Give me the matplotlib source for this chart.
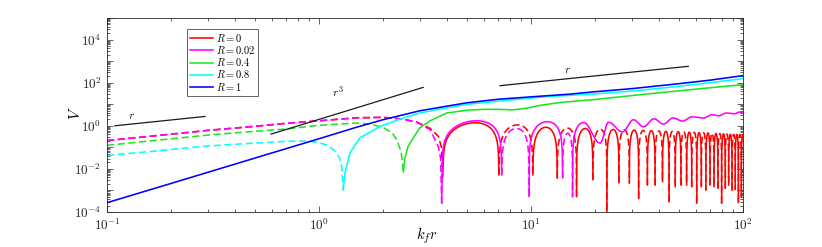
import numpy as np
import matplotlib
matplotlib.use("Agg")
import matplotlib.pyplot as plt
from matplotlib.ticker import FixedLocator, FixedFormatter, NullFormatter
from matplotlib.lines import Line2D

# ---------------- data ----------------
labels = ['$R=0$', '$R=0.02$', '$R=0.4$', '$R=0.8$', '$R=1$']
colors = ['#ff0000', '#ff00ff', '#1ee61e', '#00ffff', '#0000ff']

# R = 1 (blue, solid everywhere)
blue_x = [0.1, 0.2, 0.3, 0.5, 0.7, 1, 1.5, 2, 3, 4, 5, 7, 10, 15, 20, 30, 50, 70, 100]
blue_v = [2.7e-4, 2.1e-3, 7.0e-3, 0.032, 0.087, 0.25, 0.85, 1.9, 5.0, 8.1, 11.7, 17, 22, 29, 38, 53, 90, 131, 212]

# R = 0.8 (cyan): negative part (dashed) then positive part (solid)
cyan_neg_x = [0.1, 0.2, 0.3, 0.5, 0.7, 0.9, 1.0, 1.1, 1.2, 1.25, 1.28, 1.30]
cyan_neg_v = [0.0416, 0.079, 0.116, 0.157, 0.19, 0.195, 0.162, 0.124, 0.062, 0.0325, 0.0124, 1.05e-3]
cyan_pos_x = [1.30, 1.326, 1.40, 1.56, 1.94, 2.49, 2.99, 3.72, 5.15, 7.96, 12.3, 20, 32.7, 50, 70, 100]
cyan_pos_v = [1.05e-3, 6.5e-3, 0.0555, 0.277, 0.927, 2.28, 3.9, 5.98, 10.2, 15.7, 23.1, 30, 44, 68, 100, 153]

# R = 0.4 (green)
green_neg_x = [0.1, 0.2, 0.3, 0.5, 0.7, 1.0, 1.5, 1.74, 2.0, 2.21, 2.33, 2.44, 2.50]
green_neg_v = [0.124, 0.248, 0.373, 0.555, 0.71, 1.05, 1.34, 1.20, 0.85, 0.47, 0.22, 0.062, 7.2e-3]
green_pos_x = [2.50, 2.545, 2.63, 2.78, 2.99, 3.34, 4.0, 5.0, 6.0, 7.0, 8.2, 9.5, 11.0, 13.7, 20, 32.7, 50, 70, 100]
green_pos_v = [7.2e-3, 0.032, 0.11, 0.27, 0.8, 1.7, 3.9, 5.3, 5.8, 5.8, 5.5, 6.5, 8.8, 12, 16.5, 27.7, 42, 58, 81]

# R = 0.02 (magenta): first negative lobe, then lobes between zeros, then positive wavy tail
mag_first_x = [0.1, 0.2, 0.3, 0.5, 0.7, 1, 1.5, 2, 2.49, 2.91, 3.35, 3.66, 3.75, 3.79]
mag_first_v = [0.207, 0.41, 0.62, 0.95, 1.31, 1.71, 2.36, 2.48, 2.05, 1.42, 0.65, 0.105, 0.03, 2.6e-4]
mag_zeros = [3.79, 7.28, 9.79, 14.1, 15.7]
mag_peaks = [1.71, 0.75, 1.55, 0.45]          # |V| at top of each lobe
mag_depths = [2.6e-4, 5.3e-3, 5.3e-4, 3.9e-3, 5.2e-4]   # spike bottoms at the zeros
mag_tail_x = [17.7, 21.2, 23.2, 27.0, 30.4, 33.9, 38.0, 42.1, 46.8, 51.8, 57.5, 65.0, 71.5, 76.7, 83.6, 91.0, 96.2, 100]
mag_tail_v = [1.42, 0.157, 1.45, 0.52, 1.9, 0.9, 2.1, 1.2, 2.3, 1.65, 2.6, 2.28, 3.25, 2.92, 3.9, 3.61, 4.34, 4.1]

# R = 0 (red)
red_first_x = [0.1, 0.2, 0.3, 0.5, 0.7, 1, 1.5, 2, 2.49, 2.91, 3.35, 3.66, 3.78, 3.83]
red_first_v = [0.205, 0.405, 0.61, 0.94, 1.29, 1.69, 2.33, 2.45, 2.05, 1.45, 0.75, 0.32, 0.1, 4.4e-3]
red_zeros = [3.83, 7.06, 10.2, 13.3, 16.4, 19.6, 22.8, 26.0, 29.1, 32.2, 35.4, 38.5, 41.7, 44.8,
             47.9, 51.0, 54.2, 57.3, 60.5, 63.6, 66.8, 69.9, 73.0, 76.2, 79.3, 82.5, 85.6, 88.8,
             91.9, 95.1, 98.2, 101.3]
red_peaks = [1.38, 1.1, 0.85, 0.78, 0.75, 0.70, 0.67, 0.65, 0.63, 0.61, 0.59, 0.57, 0.55, 0.54,
             0.53, 0.52, 0.50, 0.49, 0.48, 0.47, 0.46, 0.45, 0.44, 0.43, 0.42, 0.41, 0.40, 0.40,
             0.39, 0.39, 0.38]
red_depths = [4.4e-3, 5.3e-3, 5.3e-3, 3.8e-3, 5.2e-4, 3.2e-3, 1.0e-4, 2.3e-3, 2.2e-3, 4.3e-4,
              1.8e-3, 1.8e-3, 2.6e-3, 3.0e-4, 1.5e-3, 1.8e-3, 1.8e-3, 1.5e-3, 2.6e-4, 1.5e-3,
              1.05e-3, 1.8e-3, 1.5e-3, 1.27e-3, 2.6e-4, 1.27e-3, 1.8e-3, 1.05e-3, 1.1e-3,
              2.8e-4, 5e-4, 1e-3]

# reference slopes (black guide lines) and their labels
guide_r1_x, guide_r1_v = [0.109, 0.29], [1.0, 2.71]
guide_r3_x, guide_r3_v = [0.594, 3.10], [0.411, 60.4]
guide_r2_x, guide_r2_v = [7.14, 55.2], [72.5, 573]
guide_labels = ['$r$', '$r^3$', '$r$']
guide_label_x = [0.131, 1.23, 14.8]
guide_label_v = [2.9, 36, 420]

xticks = [0.1, 1, 10, 100]
xticklabels = ['$10^{-1}$', '$10^{0}$', '$10^{1}$', '$10^{2}$']
yticks = [1e-4, 1e-2, 1e0, 1e2, 1e4]
yticklabels = ['$10^{-4}$', '$10^{-2}$', '$10^{0}$', '$10^{2}$', '$10^{4}$']

# ---------------- drawing helpers ----------------
def lobe(x0, x1, peak, d0, d1, n=80):
    """One arch of |V| between two sign changes; ends at the read spike depths."""
    t = np.linspace(0, 1, n)[1:-1]
    xs = x0 + (x1 - x0) * t
    vs = peak * np.sin(np.pi * t)
    return np.r_[x0, xs, x1], np.r_[d0, vs, d1]

def rise(x0, x1, peak, d0, n=40):
    t = np.linspace(0, 1, n)[1:]
    xs = x0 + (x1 - x0) * t
    vs = peak * np.sin(0.5 * np.pi * t)
    return np.r_[x0, xs], np.r_[d0, vs]

def smooth_extrema(xe, ve, n=25):
    lx, lv = np.log10(xe), np.log10(ve)
    X, V = [], []
    for i in range(len(xe) - 1):
        t = np.linspace(0, 1, n, endpoint=False)
        s = (1 - np.cos(np.pi * t)) / 2
        X.append(10 ** (lx[i] + (lx[i + 1] - lx[i]) * t))
        V.append(10 ** (lv[i] + (lv[i + 1] - lv[i]) * s))
    X.append([xe[-1]]); V.append([ve[-1]])
    return np.concatenate(X), np.concatenate(V)

plt.rcParams['font.family'] = ['DejaVu Serif']
plt.rcParams['mathtext.fontset'] = 'cm'

fig = plt.figure(figsize=(8.22, 2.47), dpi=100)
ax = fig.add_axes([107 / 822, 1 - 212 / 247, (743 - 107) / 822, (212 - 18) / 247])
ax.set_xscale('log')
ax.set_yscale('log')

lw = 1.15
dash = (0, (4.5, 2.2))

# red
c = colors[0]
ax.plot(red_first_x, red_first_v, color=c, lw=lw, ls=dash)
for i in range(len(red_peaks)):
    xs, vs = lobe(red_zeros[i], red_zeros[i + 1], red_peaks[i], red_depths[i], red_depths[i + 1])
    ax.plot(xs, vs, color=c, lw=lw, ls='-' if i % 2 == 0 else dash)

# magenta
c = colors[1]
ax.plot(mag_first_x, mag_first_v, color=c, lw=lw, ls=dash)
for i in range(len(mag_peaks)):
    xs, vs = lobe(mag_zeros[i], mag_zeros[i + 1], mag_peaks[i], mag_depths[i], mag_depths[i + 1])
    ax.plot(xs, vs, color=c, lw=lw, ls='-' if i % 2 == 0 else dash)
xr, vr = rise(mag_zeros[-1], mag_tail_x[0], mag_tail_v[0], mag_depths[-1])
xt, vt = smooth_extrema(mag_tail_x, mag_tail_v)
ax.plot(np.r_[xr, xt[1:]], np.r_[vr, vt[1:]], color=c, lw=lw)

# green
ax.plot(green_neg_x, green_neg_v, color=colors[2], lw=lw, ls=dash)
ax.plot(green_pos_x, green_pos_v, color=colors[2], lw=lw)
# cyan
ax.plot(cyan_neg_x, cyan_neg_v, color=colors[3], lw=lw, ls=dash)
ax.plot(cyan_pos_x, cyan_pos_v, color=colors[3], lw=lw)
# blue
ax.plot(blue_x, blue_v, color=colors[4], lw=lw)

# guide lines
for gx, gv in [(guide_r1_x, guide_r1_v), (guide_r3_x, guide_r3_v), (guide_r2_x, guide_r2_v)]:
    ax.plot(gx, gv, color='#1a1a1a', lw=0.9)
for t, gx, gv in zip(guide_labels, guide_label_x, guide_label_v):
    ax.text(gx, gv, t, fontsize=8.5, ha='center', va='center', color='#1a1a1a')

ax.set_xlim(0.1, 100)
ax.set_ylim(1e-4, 1e5)

ax.xaxis.set_major_locator(FixedLocator(xticks))
ax.xaxis.set_major_formatter(FixedFormatter(xticklabels))
ax.xaxis.set_minor_locator(FixedLocator([m * 10.0 ** e for e in range(-1, 2) for m in range(2, 10)]))
ax.xaxis.set_minor_formatter(NullFormatter())
ax.yaxis.set_major_locator(FixedLocator([10.0 ** e for e in range(-4, 6)]))
ax.yaxis.set_major_formatter(FixedFormatter(
    [yticklabels[yticks.index(10.0 ** e)] if 10.0 ** e in yticks else '' for e in range(-4, 6)]))
ax.yaxis.set_minor_locator(FixedLocator([m * 10.0 ** e for e in range(-4, 5) for m in range(2, 10)]))
ax.yaxis.set_minor_formatter(NullFormatter())

ax.tick_params(which='both', direction='in', top=True, right=True, width=0.5,
               colors='#262626', labelsize=9.5)
ax.tick_params(which='major', length=4, pad=4)
ax.tick_params(which='minor', length=2)
for s in ax.spines.values():
    s.set_linewidth(0.6)
    s.set_color('#262626')

ax.set_xlabel('$k_f r$', fontsize=10.5)
ax.set_ylabel('$V$', fontsize=11)
ax.xaxis.set_label_coords((426.7 - 107) / 636, -(235.5 - 212) / 194)
ax.yaxis.set_label_coords((75 - 107) / 636, (212 - 113) / 194)
ax.xaxis.label.set_va('center')
ax.yaxis.label.set_va('center')

handles = [Line2D([], [], color=c, lw=lw) for c in colors]
leg = ax.legend(handles, labels, loc='upper left', bbox_to_anchor=(0.125, 0.945),
                borderaxespad=0, fontsize=7.5, fancybox=False, framealpha=1,
                edgecolor='#262626', handlelength=2.2, handletextpad=0.3,
                labelspacing=0.02, borderpad=0.3)
leg.get_frame().set_linewidth(0.5)

fig.savefig('out.png', dpi=100)
